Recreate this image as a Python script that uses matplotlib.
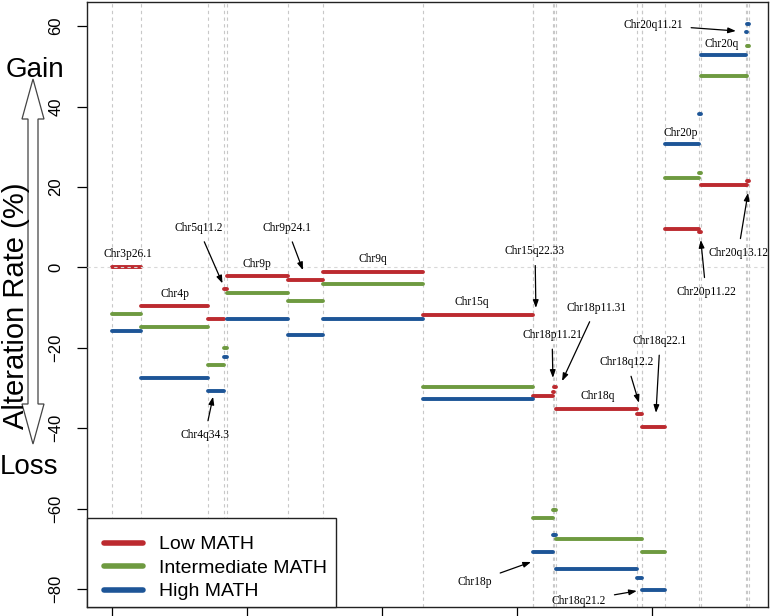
import matplotlib
matplotlib.use("Agg")
import matplotlib.pyplot as plt
from matplotlib.patches import Polygon, Rectangle
from matplotlib.lines import Line2D

# ---------------- data ----------------
regions = ["Chr3p26.1", "Chr4p", "Chr4q34.3", "Chr5q11.2", "Chr9p", "Chr9p24.1",
           "Chr9q", "Chr15q", "Chr15q22.33", "Chr18p", "Chr18p11.21", "Chr18p11.31",
           "Chr18q", "Chr18q12.2", "Chr18q21.2", "Chr18q22.1", "Chr20p",
           "Chr20p11.22", "Chr20q", "Chr20q11.21", "Chr20q13.12"]
seg_start = [0.0, 10.7, 35.6, 41.5, 42.4, 65.0, 78.0, 115.0, 155.9, 156.1, 163.5,
             163.9, 164.3, 194.4, 196.3, 196.5, 204.8, 217.6, 218.0, 235.0, 235.4]
seg_end = [10.7, 35.6, 41.5, 42.4, 65.0, 78.0, 115.0, 155.9, 156.1, 163.5, 163.9,
           164.3, 194.4, 196.3, 196.5, 204.8, 217.6, 218.0, 235.0, 235.4, 236.1]
low_math = [0.0, -9.7, -12.9, -5.3, -2.2, -3.2, -1.2, -11.8, -12.9, -31.9, -31.0,
            -29.8, -35.3, -36.5, -41.5, -39.6, 9.6, 8.7, 20.4, 20.4, 21.4]
inter_math = [-11.7, -14.8, -24.4, -20.1, -6.3, -8.5, -4.2, -29.8, -32.5, -62.3, -60.3,
              -60.3, -67.7, -67.7, -72.0, -70.8, 22.2, 23.4, 47.6, 47.6, 55.1]
high_math = [-15.8, -27.5, -30.7, -22.3, -12.8, -16.9, -12.8, -32.8, -34.7, -70.7, -66.7,
             -66.7, -75.1, -77.3, -80.3, -80.3, 30.6, 38.1, 52.9, 58.5, 60.5]
series_names = ["Low MATH", "Intermediate MATH", "High MATH"]
series_colors = ["#BC2A2F", "#6E9A40", "#1D5597"]
y_ticks = [-80, -60, -40, -20, 0, 20, 40, 60]
x_ticks = [0, 50, 100, 150, 200]

# label positions (text xy, arrow target or None)
labels = [
    ("Chr3p26.1", (5.9, 3.3), None),
    ("Chr4p", (23.3, -6.6), None),
    ("Chr5q11.2", (31.9, 9.8), (40.9, -4.0)),
    ("Chr4q34.3", (34.4, -41.7), (37.4, -32.2)),
    ("Chr9p", (53.7, 0.8), None),
    ("Chr9p24.1", (64.8, 9.8), (70.7, -0.7)),
    ("Chr9q", (96.7, 2.1), None),
    ("Chr15q", (133.3, -8.6), None),
    ("Chr15q22.33", (156.7, 4.0), (157.0, -10.1)),
    ("Chr18p11.21", (163.0, -16.8), (163.3, -27.5)),
    ("Chr18p11.31", (179.3, -10.1), (166.7, -28.3)),
    ("Chr18q", (180.0, -32.0), None),
    ("Chr18q12.2", (190.7, -23.6), (195.2, -33.7)),
    ("Chr18q22.1", (203.0, -18.3), (201.5, -36.2)),
    ("Chr18p", (134.4, -78.3), (155.2, -73.3)),
    ("Chr18q21.2", (173.0, -83.0), (194.4, -80.5)),
    ("Chr20p", (210.7, 33.4), None),
    ("Chr20p11.22", (220.0, -6.1), (218.1, 6.8)),
    ("Chr20q", (225.9, 55.5), None),
    ("Chr20q13.12", (231.9, 3.6), (235.6, 18.5)),
    ("Chr20q11.21", (200.4, 60.3), (231.1, 58.8)),
]

# ---------------- figure ----------------
W, H = 771, 616
fig = plt.figure(figsize=(W / 100, H / 100), dpi=100)
ax = fig.add_axes([87 / W, 1 - 607 / H, (768 - 87) / W, (607 - 2) / H])
ax.set_xlim(-9.3, 243.0)
ax.set_ylim(-84.5, 66.0)

grid_kw = dict(color="#C8C8C8", lw=0.8, ls=(0, (3, 3)), zorder=1)
bounds = sorted(set(seg_start + seg_end))
for b in bounds:
    ax.axvline(b, **grid_kw)
ax.axhline(0, color="#D8D8D8", lw=0.8, ls=(0, (3, 3)), zorder=4)

for vals, col in zip([low_math, inter_math, high_math], series_colors):
    for s, e, v in zip(seg_start, seg_end, vals):
        ax.plot([s, e], [v, v], color=col, lw=2.8, solid_capstyle="round", zorder=3)

serif = ["Liberation Serif", "DejaVu Serif"]
for name, (tx, ty), tgt in labels:
    if tgt is None:
        ax.text(tx, ty, name, ha="center", va="center", fontsize=8.3,
                family=serif, zorder=5)
    else:
        ax.annotate(name, xy=tgt, xytext=(tx, ty), ha="center", va="center",
                    fontsize=8.3, family=serif, zorder=5,
                    arrowprops=dict(arrowstyle="-|>,head_length=0.55,head_width=0.2",
                                    color="black", lw=0.9, shrinkA=4, shrinkB=0))

sans = ["Liberation Sans", "DejaVu Sans"]
ax.set_yticks(y_ticks)
ax.set_yticklabels([str(t).replace("-", "\u2212") for t in y_ticks],
                   rotation=90, va="center", family=sans, fontsize=12)
ax.set_xticks(x_ticks)
ax.set_xticklabels([])
ax.tick_params(axis="y", length=7, width=0.9, pad=10)
ax.tick_params(axis="x", length=7, width=0.9)
for sp in ax.spines.values():
    sp.set_linewidth(1.0)
    sp.set_color("#222222")


def fx(px):
    return px / W


def fy(py):
    return 1 - py / H


# legend: separate frame box + frameless legend entries
frame = Rectangle((fx(87), fy(607)), fx(336) - fx(87), fy(518) - fy(607),
                  transform=fig.transFigure, facecolor="white", edgecolor="#222222",
                  lw=1.0, zorder=9, clip_on=False)
ax.add_patch(frame)
handles = [Line2D([0], [0], color=c, lw=4, solid_capstyle="round") for c in series_colors]
leg = ax.legend(handles, series_names, loc="lower left",
                bbox_to_anchor=(fx(91), fy(613)), bbox_transform=fig.transFigure,
                prop=dict(family=sans, size=14), frameon=False,
                handlelength=2.0, handletextpad=0.85, labelspacing=0.3,
                borderaxespad=0.0, borderpad=0.65)
leg.set_zorder(10)

# y-axis label, Gain/Loss and hollow double arrow (figure pixels)
fig.text(fx(16), fy(306), "Alteration Rate (%)", rotation=90, ha="center", va="center",
         family=sans, fontsize=21)
fig.text(fx(35), fy(70), "Gain", ha="center", va="center", family=sans, fontsize=20)
fig.text(fx(0), fy(467), "Loss", ha="left", va="center", family=sans, fontsize=20)

cx, top, bot = 33, 79, 444
hw, sw, hl = 11, 5, 40
pts = [(cx, top), (cx + hw, top + hl), (cx + sw, top + hl), (cx + sw, bot - hl),
       (cx + hw, bot - hl), (cx, bot), (cx - hw, bot - hl), (cx - sw, bot - hl),
       (cx - sw, top + hl), (cx - hw, top + hl)]
fig.patches.append(Polygon([(fx(x), fy(y)) for x, y in pts], closed=True,
                           transform=fig.transFigure, facecolor="white",
                           edgecolor="#444444", lw=0.9))

fig.savefig("out.png", dpi=100)
